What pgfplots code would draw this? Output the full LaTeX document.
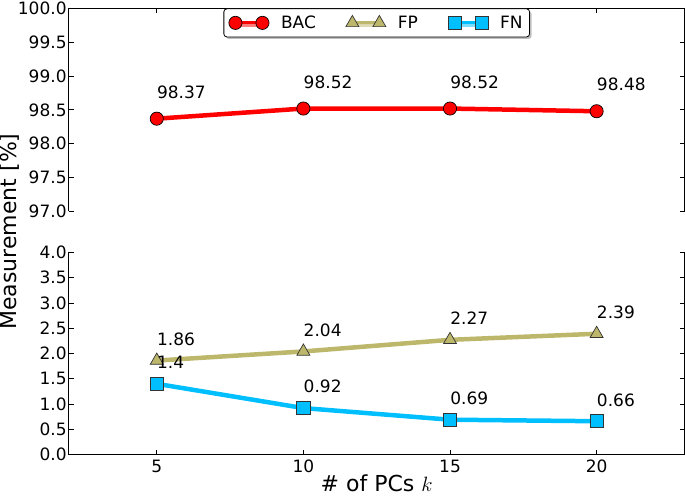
\documentclass[border=0pt]{standalone}
\usepackage{pgfplots}
\pgfplotsset{compat=1.18}
\usepackage{fontspec}
\setmainfont{DejaVu Sans}
\usetikzlibrary{shadows,calc}

\definecolor{bacred}{RGB}{255,0,0}
\definecolor{fpkhaki}{RGB}{189,183,107}
\definecolor{fnblue}{RGB}{0,191,255}

\newcommand{\tickfont}{\fontsize{17}{20}\selectfont}
\newcommand{\labfont}{\fontsize{22}{26}\selectfont}

\pgfplotsset{
  every non boxed x axis/.append style={x axis line style={-}, xtick align=inside},
  common/.style={
    scale only axis, width=616pt,
    xmin=2, xmax=23, xtick={5,10,15,20},
    tick align=inside, major tick length=5pt, minor tick num=0,
    axis y line=box,
    axis line style={line width=0.8pt, -},
    every tick/.style={black, line width=0.8pt},
    /pgf/number format/assume math mode=true,
    tick label style={font=\tickfont, inner sep=2pt},
    yticklabel style={/pgf/number format/.cd, fixed, fixed zerofill, precision=1},
    legend image code/.code={\draw[mark repeat=2, mark phase=1, ##1, line width=3pt] plot coordinates {(0pt,0pt) (13.5pt,0pt) (27pt,0pt)};},
  },
  bac/.style={color=bacred, line width=4.5pt, mark=*, mark size=6.6pt,
    mark options={fill=bacred, draw=black, line width=0.7pt}},
  fp/.style={color=fpkhaki, line width=4.5pt, mark=triangle*, mark size=7.5pt,
    mark options={fill=fpkhaki, draw=black!80, line width=0.7pt}},
  fn/.style={color=fnblue, line width=4.5pt, mark=square*, mark size=6.6pt,
    mark options={fill=fnblue, draw=black!80, line width=0.7pt}},
  lab/.style={nodes near coords, point meta=explicit symbolic,
    every node near coord/.append style={anchor=base west, inner sep=0pt,
      yshift=#1, font=\tickfont, text=black}},
}

\begin{document}
\begin{tikzpicture}
\begin{axis}[common, name=top, height=203pt,
  axis x line=top, xticklabels={},
  ymin=97, ymax=100, ytick={97,97.5,...,100},
  legend style={at={(0.5,1)}, anchor=north, legend columns=3, draw=black,
    line width=0.8pt, rounded corners=3pt, fill=white,
    drop shadow={shadow xshift=2pt, shadow yshift=-2pt, fill=black!50},
    font=\tickfont, inner ysep=5pt, inner xsep=5pt,
    /tikz/every odd column/.append style={column sep=10pt},
    /tikz/every even column/.append style={column sep=28pt}},
]
\addplot[bac, lab=20.3pt] coordinates {(5,98.37)[98.37] (10,98.52)[98.52] (15,98.52)[98.52] (20,98.48)[98.48]};
\addlegendentry{BAC}
\addlegendimage{fp}
\addlegendentry{FP}
\addlegendimage{fn}
\addlegendentry{FN}
\end{axis}
\begin{axis}[common, name=bot, height=202.3pt,
  at={($(top.south west)+(0,-41pt)$)}, anchor=north west,
  axis x line=bottom,
  ymin=0, ymax=4, ytick={0,0.5,...,4},
  xticklabel style={yshift=-3pt},
  xlabel={\# of PCs $k$}, xlabel style={font=\labfont, yshift=3pt},
]
\addplot[fp, lab=15.2pt] coordinates {(5,1.86)[1.86] (10,2.04)[2.04] (15,2.27)[2.27] (20,2.39)[2.39]};
\addplot[fn, lab=15.2pt] coordinates {(5,1.4)[1.4] (10,0.92)[0.92] (15,0.69)[0.69] (20,0.66)[0.66]};
\end{axis}
\node[rotate=90, font=\labfont, inner sep=0pt] at ($(top.north west)!0.5!(bot.south west)+(-59pt,0)$) {Measurement [\%]};
\end{tikzpicture}
\end{document}
